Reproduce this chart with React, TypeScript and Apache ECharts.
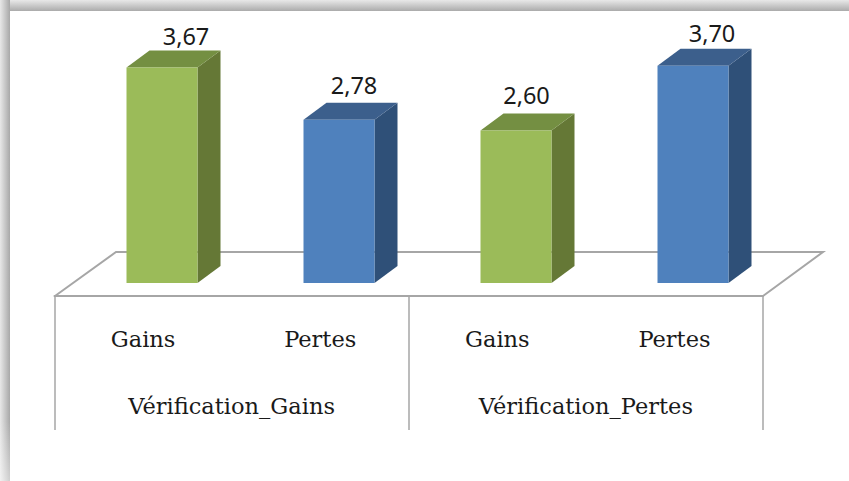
import React, { useEffect, useRef } from "react";
import * as echarts from "echarts";

const groups = ["Vérification_Gains", "Vérification_Pertes"];
const categories = ["Gains", "Pertes", "Gains", "Pertes"];
const values = [3.67, 2.78, 2.6, 3.7];

const palette: Record<string, { front: string; side: string; top: string }> = {
  Gains: { front: "#9BBB59", side: "#657836", top: "#748F42" },
  Pertes: { front: "#4F81BD", side: "#2F5078", top: "#3C5F8C" },
};

// hand-placed data labels in the reference, relative to the bar's front centre
const labelNudgeX = [24, 15, 10.5, 19];
const labelNudgeY = [-32, -34.5, -35, -33];

const DEPTH_X = 23;
const DEPTH_Y = 17;
const BAR_W = 71;
const INK = "#1a1a1a";
const RULE = "#A6A6A6";
const SERIF = "'DejaVu Serif', serif";
const AXIS_SIZE = 22.5;

export default function App() {
  const ref = useRef<HTMLDivElement>(null);
  useEffect(() => {
    const chart = echarts.init(ref.current!, null, { renderer: "svg" });
    const v = (g0: string, g1: string, x0 = 0, y0 = 0, x1 = 0, y1 = 1) => ({
      type: "linear", x: x0, y: y0, x2: x1, y2: y1,
      colorStops: [{ offset: 0, color: g0 }, { offset: 1, color: g1 }],
    });
    chart.setOption({
      animation: false,
      backgroundColor: "#ffffff",
      grid: [
        { left: 73.5, width: 708, top: 0, height: 283 },
        { left: 54.5, width: 708.5, top: 296, height: 134 },
      ],
      xAxis: [
        { type: "category", gridIndex: 0, data: categories, show: false },
        {
          type: "category", gridIndex: 1, data: categories, position: "bottom", offset: -134,
          axisLine: { show: false }, axisTick: { show: false },
          axisLabel: { color: INK, fontFamily: SERIF, fontSize: AXIS_SIZE, margin: 31, interval: 0, lineHeight: 24 },
        },
        {
          type: "category", gridIndex: 1, data: groups, position: "bottom", offset: -134,
          axisLine: { show: true, lineStyle: { color: RULE, width: 2 } },
          axisTick: { show: true, inside: false, length: 134, lineStyle: { color: RULE, width: 1.5 } },
          axisLabel: { color: INK, fontFamily: SERIF, fontSize: AXIS_SIZE, margin: 98, interval: 0, lineHeight: 24 },
        },
      ],
      yAxis: [
        { type: "value", gridIndex: 0, min: 0, max: 283 / 58.7, show: false },
        { type: "value", gridIndex: 1, min: 0, max: 1, show: false },
      ],
      graphic: [
        { type: "rect", z: 0, shape: { x: 0, y: 0, width: 849, height: 11 }, style: { fill: v("#E8E8E8", "#ABABAB") } },
        { type: "rect", z: 0, shape: { x: 0, y: 0, width: 10, height: 481 }, style: { fill: v("#E8E8E8", "#A8A8A8", 0, 0, 1, 0) } },
        { type: "rect", z: 1, shape: { x: 0, y: 421, width: 10, height: 60 }, style: { fill: v("rgba(255,255,255,0)", "rgba(255,255,255,0.45)") } },
        {
          type: "polyline", z: 0,
          shape: { points: [[55, 296], [116, 252], [823, 252], [763, 296]] },
          style: { stroke: RULE, lineWidth: 2, fill: "none" },
        },
      ],
      series: [
        {
          type: "custom", xAxisIndex: 0, yAxisIndex: 0, z: 5, clip: false,
          data: values.map((val, i) => [i, val]),
          renderItem: (params: any, api: any) => {
            const i = api.value(0);
            const val = api.value(1);
            const c = palette[categories[i]];
            const [cx, top] = api.coord([i, val]);
            const [, base] = api.coord([i, 0]);
            const l = cx - BAR_W / 2;
            const r = cx + BAR_W / 2;
            return {
              type: "group",
              children: [
                { type: "polygon", shape: { points: [[r, top], [r + DEPTH_X, top - DEPTH_Y], [r + DEPTH_X, base - DEPTH_Y], [r, base]] }, style: { fill: c.side } },
                { type: "polygon", shape: { points: [[l, top], [l + DEPTH_X, top - DEPTH_Y], [r + DEPTH_X, top - DEPTH_Y], [r, top]] }, style: { fill: c.top } },
                { type: "rect", shape: { x: l, y: top, width: BAR_W, height: base - top }, style: { fill: c.front } },
                {
                  type: "text",
                  style: {
                    x: cx + labelNudgeX[i], y: top + labelNudgeY[i],
                    text: val.toFixed(2).replace(".", ","),
                    fill: INK, font: "23.5px 'Noto Sans', sans-serif",
                    align: "center", verticalAlign: "middle",
                  },
                },
              ],
            };
          },
        },
      ],
    });
    return () => chart.dispose();
  }, []);
  return <div ref={ref} style={{ position: "absolute", left: 0, top: 0, width: 849, height: 481 }} />;
}
